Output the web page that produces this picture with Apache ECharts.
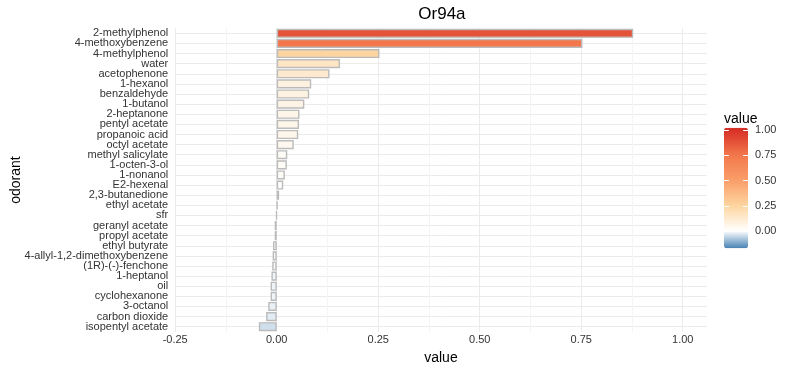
<!DOCTYPE html>
<html>
<head>
<meta charset="utf-8">
<script src="https://cdn.jsdelivr.net/npm/echarts@6/dist/echarts.min.js"></script>
<style>
html,body{margin:0;padding:0;background:#fff;}
#chart{width:800px;height:370px;}
</style>
</head>
<body>
<div id="chart"></div>
<script>
// ---- data ----
const chartTitle = 'Or94a';
const odorants = ['2-methylphenol','4-methoxybenzene','4-methylphenol','water','acetophenone','1-hexanol','benzaldehyde','1-butanol','2-heptanone','pentyl acetate','propanoic acid','octyl acetate','methyl salicylate','1-octen-3-ol','1-nonanol','E2-hexenal','2,3-butanedione','ethyl acetate','sfr','geranyl acetate','propyl acetate','ethyl butyrate','4-allyl-1,2-dimethoxybenzene','(1R)-(-)-fenchone','1-heptanol','oil','cyclohexanone','3-octanol','carbon dioxide','isopentyl acetate'];
const values = [0.878,0.753,0.253,0.156,0.130,0.085,0.080,0.068,0.056,0.055,0.053,0.042,0.026,0.025,0.020,0.016,0.006,0.002,-0.001,-0.005,-0.005,-0.009,-0.010,-0.011,-0.013,-0.015,-0.015,-0.021,-0.026,-0.044];
const xTicks = [-0.25, 0, 0.25, 0.5, 0.75, 1.0];
const legendTicks = [1.0, 0.75, 0.5, 0.25, 0.0];
const legendMin = -0.172, legendMax = 1.023;

// ---- colour scale ----
const anchors = [[-0.172,[70,130,180]],[0,[255,255,255]],[0.25,[253,213,160]],[0.5,[250,158,106]],[0.75,[243,120,75]],[1.0,[215,48,39]]];
function colorAt(v){
  if (v <= anchors[0][0]) return anchors[0][1];
  for (let i=1;i<anchors.length;i++){
    if (v <= anchors[i][0]){
      const a=anchors[i-1], b=anchors[i];
      const t=(v-a[0])/(b[0]-a[0]);
      return a[1].map((c,k)=>Math.round(c+(b[1][k]-c)*t));
    }
  }
  return anchors[anchors.length-1][1];
}
const N = 200;
const rangeColors = [];
for (let i=0;i<=N;i++){
  const c = colorAt(legendMin + (legendMax-legendMin)*i/N);
  rangeColors.push('rgb('+c.join(',')+')');
}

// ---- layout ----
const gridLeft = 175.2, gridRight = 706.7, gridTop = 28.25, gridH = 303.5;
const xMin = -0.25, xMax = 1.059;
const lgX = 724, lgY = 127.7, lgW = 24, lgH = 120.6;
const FONT = "'Liberation Sans', Arial, Helvetica, sans-serif";

function lgYof(v){ return lgY + (legendMax - v)/(legendMax-legendMin)*lgH; }

const graphics = [
  {type:'text', left: lgX, top: 112, style:{text:'value', font:'14px '+FONT, fill:'#000'}}
];
legendTicks.forEach(v=>{
  const y = Math.round(lgYof(v))+0.5;
  graphics.push({type:'line', shape:{x1:lgX, y1:y, x2:lgX+5, y2:y}, style:{stroke:'#fff', lineWidth:1}, z:100});
  graphics.push({type:'line', shape:{x1:lgX+lgW-5, y1:y, x2:lgX+lgW, y2:y}, style:{stroke:'#fff', lineWidth:1}, z:100});
  graphics.push({type:'text', x: 755, y: lgYof(v), style:{text:v.toFixed(2), font:'11px '+FONT, fill:'#333', textVerticalAlign:'middle'}});
});

const chart = echarts.init(document.getElementById('chart'), null, {renderer:'canvas'});
chart.setOption({
  animation:false,
  backgroundColor:'#fff',
  title:{text:chartTitle, left:(gridLeft+gridRight)/2 - 4, top:1, textAlign:'center',
    textStyle:{fontFamily:FONT, fontSize:17, fontWeight:'normal', color:'#000'}},
  grid:{left:gridLeft, top:gridTop, width:gridRight-gridLeft, height:gridH, containLabel:false, outerBoundsMode:'none'},
  xAxis:[{
    type:'value', min:xMin, max:xMax, interval:0.25, z:2,
    axisLine:{show:false}, axisTick:{show:false},
    axisLabel:{margin:3, color:'#333', fontFamily:FONT, fontSize:11, showMaxLabel:false,
      formatter:v=> xTicks.some(t=>Math.abs(t-v)<1e-9) ? v.toFixed(2) : ''},
    splitLine:{show:true, showMaxLine:false, lineStyle:{color:'#EBEBEB', width:1}},
    name:'value', nameLocation:'middle', nameGap:15,
    nameTextStyle:{fontFamily:FONT, fontSize:14, color:'#000'}
  },{
    type:'value', min:xMin, max:xMax, interval:0.125, z:1, position:'bottom',
    axisLine:{show:false}, axisTick:{show:false}, axisLabel:{show:false},
    splitLine:{show:true, showMaxLine:false, lineStyle:{color:'#F4F4F4', width:1}}
  }],
  yAxis:{
    type:'category', data:odorants, inverse:true,
    axisLine:{show:false}, axisTick:{show:false},
    axisLabel:{interval:0, margin:7, color:'#333', fontFamily:FONT, fontSize:11},
    splitLine:{show:true, interval:0, alignWithLabel:true, lineStyle:{color:'#EBEBEB', width:1}},
    name:'odorant', nameLocation:'middle', nameGap:152, nameRotate:90, nameMoveOverlap:false,
    nameTextStyle:{fontFamily:FONT, fontSize:14, color:'#000'}
  },
  visualMap:{
    type:'continuous', min:legendMin, max:legendMax, dimension:0, seriesIndex:0,
    calculable:false, hoverLink:false, realtime:false,
    left:lgX, top:lgY, itemWidth:lgW, itemHeight:lgH, padding:0,
    text:null, showLabel:false,
    inRange:{color:rangeColors}
  },
  series:[{
    type:'bar', data:values, barWidth:'90%', xAxisIndex:0,
    itemStyle:{borderColor:'#BBBBBB', borderWidth:1.4},
    emphasis:{disabled:true}
  }],
  graphic:graphics
});
</script>
</body>
</html>
